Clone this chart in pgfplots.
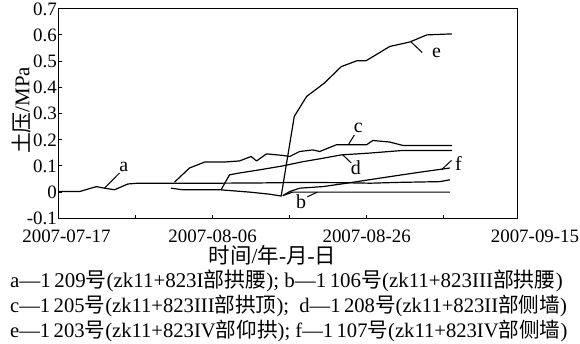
\documentclass[border=0pt]{standalone}
\usepackage{fontspec}
\setmainfont{Liberation Serif}
\newfontfamily\cjk{Noto Sans CJK SC}
\usepackage{pgfplots}
\pgfplotsset{compat=1.18}
\begin{document}
\begin{tikzpicture}[x=1bp,y=1bp]
\begin{axis}[
  at={(0,0)}, anchor=south west,
  scale only axis, width=459.2bp, height=209.6bp,
  xmin=0, xmax=59.6, ymin=-0.1, ymax=0.7,
  axis line style={line width=1.2bp},
  tick pos=left, tick align=inside,
  major tick length=3.5bp, minor tick length=3.5bp,
  tick style={line width=1bp, black},
  xtick={0,20,40},
  xticklabels={\hspace*{16bp}2007-07-17, 2007-08-06, 2007-08-26},
  minor xtick={10,30,50},
  ytick={-0.1,0,0.1,0.2,0.3,0.4,0.5,0.6,0.7},
  yticklabels={-0.1,0,0.1,0.2,0.3,0.4,0.5,0.6,0.7},
  ticklabel style={font=\rmfamily\fontsize{19}{19}\selectfont},
  xticklabel style={anchor=north, inner sep=0pt, yshift=-11bp},
  yticklabel style={anchor=east, inner sep=0pt, text depth=0pt, xshift=-1.5bp},
  xlabel={{\cjk 时间}/{\cjk 年}-{\cjk 月}-{\cjk 日}},
  xlabel style={at={(axis description cs:0.466,0)}, anchor=center, yshift=-37bp, font=\rmfamily\fontsize{21.5}{21.5}\selectfont},
  ylabel={{\cjk 土压}/MPa},
  ylabel style={at={(axis description cs:-0.0806,0.515)}, anchor=center, font=\rmfamily\fontsize{21}{21}\selectfont},
]
% a
\addplot[black, line width=1.2bp, line join=round] coordinates {(0,0.002) (2.73,0.002) (4.9,0.021) (5.97,0.015) (7.27,0.009) (9.0,0.031) (10.3,0.034) (13.1,0.034) (20.3,0.034) (26.1,0.035) (31.3,0.037) (36.5,0.036) (40.5,0.034) (44,0.037) (49.5,0.040) (50.8,0.047)};
% b
\addplot[black, line width=1.2bp, line join=round] coordinates {(29.2,-0.012) (30.4,0) (50.8,0)};
% c
\addplot[black, line width=1.2bp, line join=round] coordinates {(15.06,0.038) (17.0,0.092) (19.0,0.115) (21.6,0.115) (23.5,0.119) (25.0,0.136) (25.7,0.119) (27.0,0.146) (29.1,0.140) (30.0,0.136) (31.3,0.155) (33.0,0.161) (33.9,0.155) (36.1,0.181) (40.0,0.181) (40.8,0.197) (43.0,0.191) (44.7,0.178) (51.1,0.178)};
% d
\addplot[black, line width=1.2bp, line join=round] coordinates {(21.1,0.009) (22.2,0.066) (23.5,0.073) (26.1,0.085) (29.1,0.100) (31.7,0.116) (33.9,0.127) (36.7,0.142) (40.4,0.149) (44.7,0.159) (51.1,0.159)};
% e
\addplot[black, line width=1.2bp, line join=round] coordinates {(14.6,0.015) (16.1,0.009) (20.9,0.009) (24.8,0.0) (27.4,-0.008) (28.9,-0.015) (30.6,0.289) (32.2,0.365) (34.5,0.416) (36.7,0.479) (38.7,0.501) (39.9,0.501) (43.0,0.556) (45.6,0.573) (47.8,0.600) (51.1,0.604)};
% f
\addplot[black, line width=1.2bp, line join=round] coordinates {(29.1,-0.014) (30.0,0.002) (31.3,0.015) (34.3,0.021) (37.4,0.034) (43.0,0.059) (46.9,0.076) (50.8,0.092)};
% curve labels
\draw[line width=1bp] (axis cs:5.97,0.015) -- (axis cs:7.92,0.073);
\node[font=\rmfamily\fontsize{20}{20}\selectfont] at (axis cs:8.48,0.0954) {a};
\draw[line width=1bp] (axis cs:32.3,-0.018) -- (axis cs:33.6,0);
\node[font=\rmfamily\fontsize{20}{20}\selectfont] at (axis cs:31.5,-0.036) {b};
\draw[line width=1bp] (axis cs:37.6,0.18) -- (axis cs:38.4,0.218);
\node[font=\rmfamily\fontsize{20}{20}\selectfont] at (axis cs:38.9,0.244) {c};
\draw[line width=1bp] (axis cs:36.9,0.142) -- (axis cs:38.0,0.111);
\node[font=\rmfamily\fontsize{20}{20}\selectfont] at (axis cs:38.6,0.092) {d};
\draw[line width=1bp] (axis cs:45.8,0.572) -- (axis cs:47.2,0.533);
\node[font=\rmfamily\fontsize{20}{20}\selectfont] at (axis cs:49.05,0.533) {e};
\draw[line width=1bp] (axis cs:49.7,0.085) -- (axis cs:51.0,0.121);
\node[font=\rmfamily\fontsize{20}{20}\selectfont] at (axis cs:51.9,0.111) {f};
\end{axis}
\node[anchor=north, inner sep=0pt, font=\rmfamily\fontsize{19}{19}\selectfont] at (476.5,-11) {2007-09-15};
\begin{scope}[every node/.style={anchor=base west, inner sep=0pt}]
\node[font=\rmfamily\fontsize{21}{21}\selectfont] at (-48.5,-69.2) {a—1\,209{\cjk 号}(zk11+823I{\cjk 部拱腰}); b—1\,106{\cjk 号}(zk11+823III{\cjk 部拱腰})};
\node[font=\rmfamily\fontsize{20.7}{21}\selectfont] at (-48.5,-94.2) {c—1\,205{\cjk 号}(zk11+823III{\cjk 部拱顶});\ \ d—1\,208{\cjk 号}(zk11+823II{\cjk 部侧墙})};
\node[font=\rmfamily\fontsize{20.7}{21}\selectfont] at (-48.5,-119.2) {e—1\,203{\cjk 号}(zk11+823IV{\cjk 部仰拱});\ f—1\,107{\cjk 号}(zk11+823IV{\cjk 部侧墙})};
\end{scope}
\pgfresetboundingbox
\path[use as bounding box] (-58.5,-124.7) rectangle (521.5,218.3);
\end{tikzpicture}
\end{document}
